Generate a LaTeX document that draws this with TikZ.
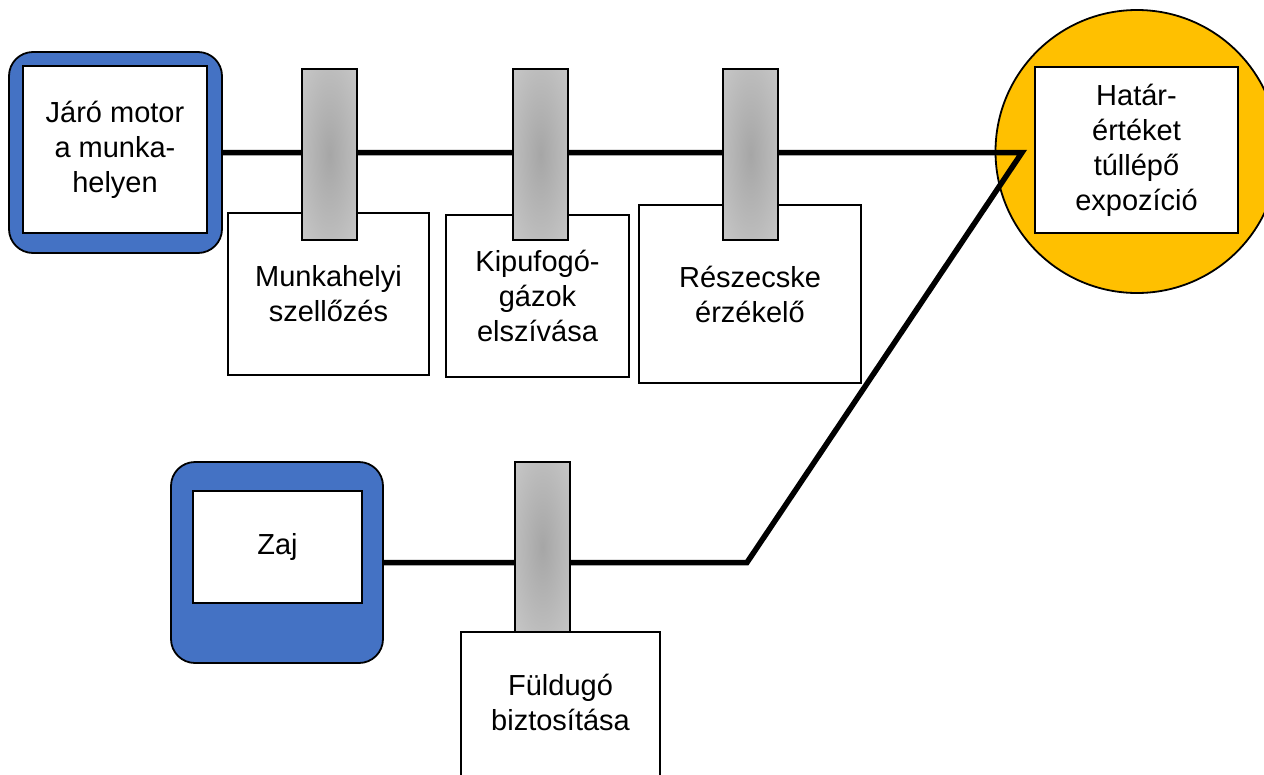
\documentclass[tikz,border=0pt]{standalone}
\usepackage{fontspec}
\setmainfont{Liberation Sans}
\definecolor{myblue}{HTML}{4472C4}
\definecolor{myyellow}{HTML}{FFC000}
\definecolor{barin}{HTML}{A6A6A6}
\definecolor{barout}{HTML}{D4D4D4}
\definecolor{barouter}{HTML}{E6E6E6}
\pgfdeclareradialshading{barshade}{\pgfpoint{0bp}{0bp}}{color(0bp)=(barin); color(50bp)=(barout); color(72bp)=(barouter)}
\tikzset{
  lbl/.style={font=\fontsize{29}{35}\selectfont, align=center},
  bluebox/.style={draw=black, line width=1.8pt, fill=myblue, rounded corners=24pt, inner sep=0pt},
  innerbox/.style={draw=black, line width=2pt, fill=white, inner sep=0pt, lbl},
  textbox/.style={draw=black, line width=1.5pt, fill=white, inner sep=0pt, lbl},
  barrier/.style={draw=black, line width=1.5pt, shading=barshade, inner sep=0pt,
    minimum width=55pt, minimum height=171pt},
  conn/.style={line width=5.5pt, line join=miter},
  goal/.style={circle, draw=black, line width=1.8pt, fill=myyellow, minimum size=283pt, inner sep=0pt},
}
\begin{document}
\begin{tikzpicture}[x=1pt,y=-1pt]
\useasboundingbox (0,0) rectangle (1264,774);
\clip (0,0) rectangle (1264,774);
% goal circle
\node[goal] (goal) at (1137,151.5) {};
% sources
\node[bluebox, minimum width=213pt, minimum height=201pt] (src1) at (115.5,152.5) {};
\node[bluebox, minimum width=212pt, minimum height=201pt] (src2) at (277,562.5) {};
% connectors
\coordinate (J) at (1022,152.5);
\coordinate (K) at (747,562.5);
\draw[conn] (src1.east) -- (J) -- (K) -- (src2.east);
% inner boxes
\node[innerbox, minimum width=184pt, minimum height=167pt] (in1) at (115,149.5) {Járó motor\\a munka-\\helyen};
\node[innerbox, minimum width=169pt, minimum height=112pt] (in2) at (277.5,547) {Zaj};
\node[innerbox, minimum width=203pt, minimum height=166pt] (in3) at (1136.5,150) {Határ-\\értéket\\túllépő\\expozíció};
% barrier label boxes
\node[textbox, minimum width=201pt, minimum height=162pt] (b1) at (328.5,294) {Munkahelyi\\szellőzés};
\node[textbox, minimum width=183pt, minimum height=162pt] (b2) at (537.5,296) {Kipufogó-\\gázok\\elszívása};
\node[textbox, minimum width=222pt, minimum height=178pt] (b3) at (750,294) {Részecske\\érzékelő};
\node[textbox, minimum width=199pt, minimum height=146pt] (b4) at (560.5,705) {};
\node[lbl] (b4t) at (560.5,702) {Füldugó\\biztosítása};
% barriers
\node[barrier] (r1) at (329.5,154.5) {};
\node[barrier] (r2) at (540.5,154.5) {};
\node[barrier] (r3) at (750.5,154.5) {};
\node[barrier, minimum height=170pt] (r4) at (542.5,547) {};
\end{tikzpicture}
\end{document}
